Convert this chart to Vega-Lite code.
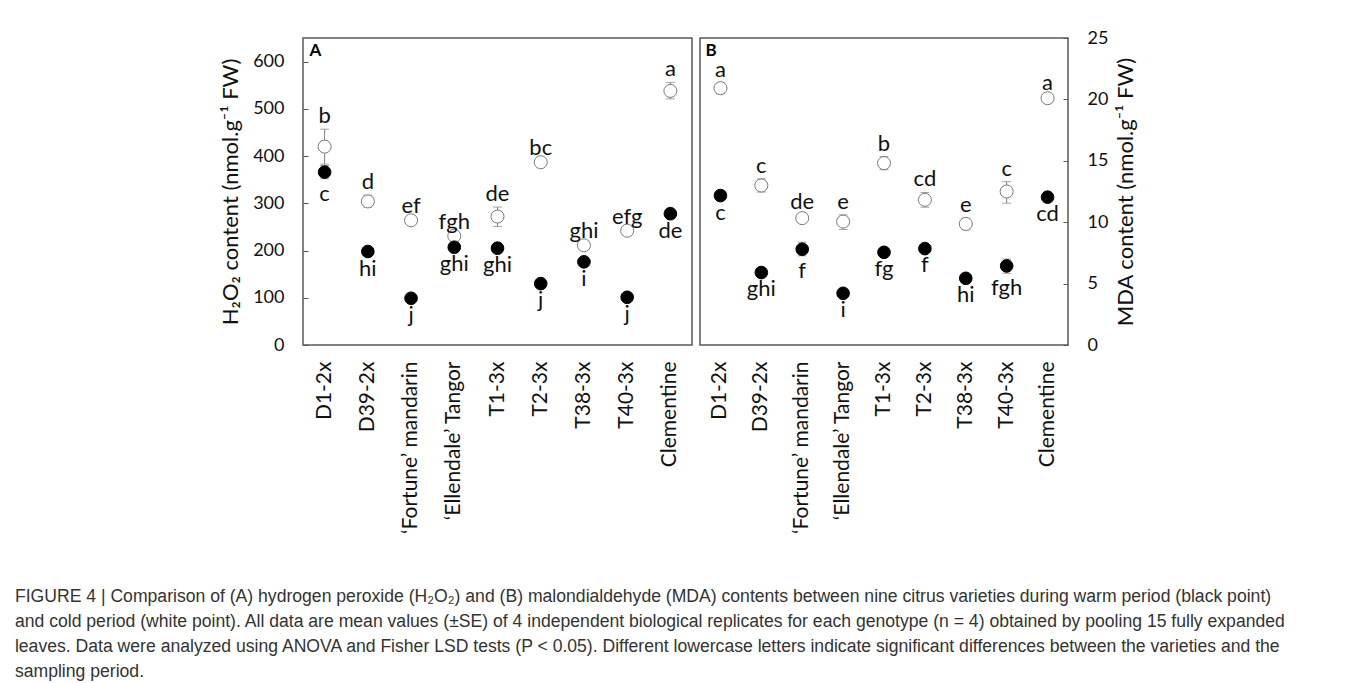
{
  "$schema": "https://vega.github.io/schema/vega-lite/v6.json",
  "background": "white",
  "padding": {"left": 14, "top": 28, "right": 2, "bottom": 2},
  "spacing": 6,
  "config": {
    "font": "Lato",
    "view": {"stroke": "#595959", "strokeWidth": 1.5},
    "axis": {"labelFont": "Lato", "titleFont": "Lato", "labelColor": "#111", "titleColor": "#111", "grid": false, "domain": false, "labelFontSize": 18, "titleFontWeight": "normal"}
  },
  "title": {
    "text": [
      "FIGURE 4 | Comparison of (A) hydrogen peroxide (H₂O₂) and (B) malondialdehyde (MDA) contents between nine citrus varieties during warm period (black point)",
      "and cold period (white point). All data are mean values (±SE) of 4 independent biological replicates for each genotype (n = 4) obtained by pooling 15 fully expanded",
      "leaves. Data were analyzed using ANOVA and Fisher LSD tests (P < 0.05). Different lowercase letters indicate significant differences between the varieties and the",
      "sampling period."
    ],
    "orient": "bottom",
    "anchor": "start",
    "frame": "bounds",
    "dx": -204,
    "offset": 54,
    "font": "Liberation Sans",
    "fontSize": 17.6,
    "fontWeight": "normal",
    "lineHeight": 25,
    "color": "#333"
  },
  "datasets": {
    "h2o2": [
      {"variety": "D1-2x", "period": "cold", "mean": 420, "lo": 383, "hi": 457, "letter": "b"},
      {"variety": "D39-2x", "period": "cold", "mean": 304, "lo": 292, "hi": 317, "letter": "d"},
      {"variety": "‘Fortune’ mandarin", "period": "cold", "mean": 264, "lo": 262, "hi": 266, "letter": "ef"},
      {"variety": "‘Ellendale’ Tangor", "period": "cold", "mean": 231, "lo": 229, "hi": 233, "letter": "fgh"},
      {"variety": "T1-3x", "period": "cold", "mean": 272, "lo": 251, "hi": 292, "letter": "de"},
      {"variety": "T2-3x", "period": "cold", "mean": 387, "lo": 385, "hi": 389, "letter": "bc"},
      {"variety": "T38-3x", "period": "cold", "mean": 211, "lo": 209, "hi": 213, "letter": "ghi"},
      {"variety": "T40-3x", "period": "cold", "mean": 242, "lo": 240, "hi": 244, "letter": "efg"},
      {"variety": "Clementine", "period": "cold", "mean": 538, "lo": 521, "hi": 556, "letter": "a"},
      {"variety": "D1-2x", "period": "warm", "mean": 366, "lo": 352, "hi": 380, "letter": "c"},
      {"variety": "D39-2x", "period": "warm", "mean": 198, "lo": 192, "hi": 204, "letter": "hi"},
      {"variety": "‘Fortune’ mandarin", "period": "warm", "mean": 99, "lo": 96, "hi": 102, "letter": "j"},
      {"variety": "‘Ellendale’ Tangor", "period": "warm", "mean": 207, "lo": 204, "hi": 210, "letter": "ghi"},
      {"variety": "T1-3x", "period": "warm", "mean": 205, "lo": 202, "hi": 208, "letter": "ghi"},
      {"variety": "T2-3x", "period": "warm", "mean": 130, "lo": 127, "hi": 133, "letter": "j"},
      {"variety": "T38-3x", "period": "warm", "mean": 176, "lo": 172, "hi": 180, "letter": "i"},
      {"variety": "T40-3x", "period": "warm", "mean": 101, "lo": 98, "hi": 104, "letter": "j"},
      {"variety": "Clementine", "period": "warm", "mean": 278, "lo": 274, "hi": 282, "letter": "de"}
    ],
    "mda": [
      {"variety": "D1-2x", "period": "cold", "mean": 20.92, "lo": 20.46, "hi": 21.33, "letter": "a"},
      {"variety": "D39-2x", "period": "cold", "mean": 12.99, "lo": 12.45, "hi": 13.53, "letter": "c"},
      {"variety": "‘Fortune’ mandarin", "period": "cold", "mean": 10.33, "lo": 10.1, "hi": 10.55, "letter": "de"},
      {"variety": "‘Ellendale’ Tangor", "period": "cold", "mean": 10.05, "lo": 9.4, "hi": 10.6, "letter": "e"},
      {"variety": "T1-3x", "period": "cold", "mean": 14.81, "lo": 14.27, "hi": 15.35, "letter": "b"},
      {"variety": "T2-3x", "period": "cold", "mean": 11.82, "lo": 11.22, "hi": 12.42, "letter": "cd"},
      {"variety": "T38-3x", "period": "cold", "mean": 9.86, "lo": 9.38, "hi": 10.33, "letter": "e"},
      {"variety": "T40-3x", "period": "cold", "mean": 12.5, "lo": 11.55, "hi": 13.3, "letter": "c"},
      {"variety": "Clementine", "period": "cold", "mean": 20.1, "lo": 19.9, "hi": 20.3, "letter": "a"},
      {"variety": "D1-2x", "period": "warm", "mean": 12.17, "lo": 12.0, "hi": 12.35, "letter": "c"},
      {"variety": "D39-2x", "period": "warm", "mean": 5.9, "lo": 5.75, "hi": 6.05, "letter": "ghi"},
      {"variety": "‘Fortune’ mandarin", "period": "warm", "mean": 7.8, "lo": 7.26, "hi": 8.37, "letter": "f"},
      {"variety": "‘Ellendale’ Tangor", "period": "warm", "mean": 4.21, "lo": 4.1, "hi": 4.3, "letter": "i"},
      {"variety": "T1-3x", "period": "warm", "mean": 7.55, "lo": 7.4, "hi": 7.7, "letter": "fg"},
      {"variety": "T2-3x", "period": "warm", "mean": 7.85, "lo": 7.7, "hi": 8.0, "letter": "f"},
      {"variety": "T38-3x", "period": "warm", "mean": 5.43, "lo": 5.3, "hi": 5.55, "letter": "hi"},
      {"variety": "T40-3x", "period": "warm", "mean": 6.44, "lo": 5.84, "hi": 7.0, "letter": "fgh"},
      {"variety": "Clementine", "period": "warm", "mean": 12.04, "lo": 11.9, "hi": 12.2, "letter": "cd"}
    ]
  },
  "hconcat": [
    {
      "width": 389,
      "height": 307,
      "data": {"name": "h2o2"},
      "encoding": {
        "x": {
          "field": "variety", "type": "nominal",
          "sort": ["D1-2x", "D39-2x", "‘Fortune’ mandarin", "‘Ellendale’ Tangor", "T1-3x", "T2-3x", "T38-3x", "T40-3x", "Clementine"],
          "scale": {"type": "band", "paddingInner": 0, "paddingOuter": 0},
          "axis": {"title": null, "labelAngle": 270, "labelAlign": "right", "labelBaseline": "middle", "ticks": false, "labelPadding": 16, "labelFontSize": 21}
        }
      },
      "layer": [
        {
          "mark": {"type": "rule", "color": "#808080", "strokeWidth": 1},
          "encoding": {
            "y": {"field": "lo", "type": "quantitative", "title": "H₂O₂ content (nmol.g⁻¹ FW)", "scale": {"domain": [0, 650], "nice": false},
              "axis": {"titleFontSize": 22, "values": [0, 100, 200, 300, 400, 500, 600], "tickSize": -5, "tickColor": "#595959", "labelPadding": 24, "titlePadding": 10}},
            "y2": {"field": "hi"}
          }
        },
        {
          "mark": {"type": "tick", "color": "#808080", "size": 9, "thickness": 1},
          "encoding": {"y": {"field": "lo", "type": "quantitative", "title": "H₂O₂ content (nmol.g⁻¹ FW)"}}
        },
        {
          "mark": {"type": "tick", "color": "#808080", "size": 9, "thickness": 1},
          "encoding": {"y": {"field": "hi", "type": "quantitative", "title": "H₂O₂ content (nmol.g⁻¹ FW)"}}
        },
        {
          "transform": [{"filter": "datum.period === 'cold'"}],
          "mark": {"type": "point", "shape": "circle", "filled": true, "fill": "white", "stroke": "#7a7a7a", "strokeWidth": 1, "size": 170, "opacity": 1},
          "encoding": {"y": {"field": "mean", "type": "quantitative", "title": "H₂O₂ content (nmol.g⁻¹ FW)"}}
        },
        {
          "transform": [{"filter": "datum.period === 'warm'"}],
          "mark": {"type": "point", "shape": "circle", "filled": true, "fill": "black", "stroke": "black", "strokeWidth": 1, "size": 160, "opacity": 1},
          "encoding": {"y": {"field": "mean", "type": "quantitative", "title": "H₂O₂ content (nmol.g⁻¹ FW)"}}
        },
        {
          "transform": [{"filter": "datum.period === 'cold'"}],
          "mark": {"type": "text", "font": "Lato", "fontSize": 22, "baseline": "bottom", "dy": -1, "color": "#111"},
          "encoding": {"y": {"field": "hi", "type": "quantitative", "title": "H₂O₂ content (nmol.g⁻¹ FW)"}, "text": {"field": "letter"}}
        },
        {
          "transform": [{"filter": "datum.period === 'warm'"}],
          "mark": {"type": "text", "font": "Lato", "fontSize": 22, "baseline": "top", "dy": 5, "color": "#111"},
          "encoding": {"y": {"field": "lo", "type": "quantitative", "title": "H₂O₂ content (nmol.g⁻¹ FW)"}, "text": {"field": "letter"}}
        },
        {
          "data": {"values": [{"panel": "A", "variety": "D1-2x", "top": 650}]},
          "mark": {"type": "text", "font": "Lato", "fontSize": 17, "fontWeight": "bold", "align": "left", "baseline": "top", "dx": -15, "dy": 5, "color": "#000"},
          "encoding": {"y": {"field": "top", "type": "quantitative", "title": "H₂O₂ content (nmol.g⁻¹ FW)"}, "text": {"field": "panel"}}
        }
      ]
    },
    {
      "width": 368,
      "height": 307,
      "data": {"name": "mda"},
      "encoding": {
        "x": {
          "field": "variety", "type": "nominal",
          "sort": ["D1-2x", "D39-2x", "‘Fortune’ mandarin", "‘Ellendale’ Tangor", "T1-3x", "T2-3x", "T38-3x", "T40-3x", "Clementine"],
          "scale": {"type": "band", "paddingInner": 0, "paddingOuter": 0},
          "axis": {"title": null, "labelAngle": 270, "labelAlign": "right", "labelBaseline": "middle", "ticks": false, "labelPadding": 16, "labelFontSize": 21}
        }
      },
      "layer": [
        {
          "mark": {"type": "rule", "color": "#808080", "strokeWidth": 1},
          "encoding": {
            "y": {"field": "lo", "type": "quantitative", "title": "MDA content (nmol.g⁻¹ FW)", "scale": {"domain": [0, 25], "nice": false},
              "axis": {"orient": "right", "titleFontSize": 22, "titleAngle": 270, "values": [0, 5, 10, 15, 20, 25], "tickSize": -5, "tickColor": "#595959", "labelPadding": 24, "titlePadding": 30}},
            "y2": {"field": "hi"}
          }
        },
        {
          "mark": {"type": "tick", "color": "#808080", "size": 9, "thickness": 1},
          "encoding": {"y": {"field": "lo", "type": "quantitative", "title": "MDA content (nmol.g⁻¹ FW)"}}
        },
        {
          "mark": {"type": "tick", "color": "#808080", "size": 9, "thickness": 1},
          "encoding": {"y": {"field": "hi", "type": "quantitative", "title": "MDA content (nmol.g⁻¹ FW)"}}
        },
        {
          "transform": [{"filter": "datum.period === 'cold'"}],
          "mark": {"type": "point", "shape": "circle", "filled": true, "fill": "white", "stroke": "#7a7a7a", "strokeWidth": 1, "size": 170, "opacity": 1},
          "encoding": {"y": {"field": "mean", "type": "quantitative", "title": "MDA content (nmol.g⁻¹ FW)"}}
        },
        {
          "transform": [{"filter": "datum.period === 'warm'"}],
          "mark": {"type": "point", "shape": "circle", "filled": true, "fill": "black", "stroke": "black", "strokeWidth": 1, "size": 160, "opacity": 1},
          "encoding": {"y": {"field": "mean", "type": "quantitative", "title": "MDA content (nmol.g⁻¹ FW)"}}
        },
        {
          "transform": [{"filter": "datum.period === 'cold'"}],
          "mark": {"type": "text", "font": "Lato", "fontSize": 22, "baseline": "bottom", "dy": -1, "color": "#111"},
          "encoding": {"y": {"field": "hi", "type": "quantitative", "title": "MDA content (nmol.g⁻¹ FW)"}, "text": {"field": "letter"}}
        },
        {
          "transform": [{"filter": "datum.period === 'warm'"}],
          "mark": {"type": "text", "font": "Lato", "fontSize": 22, "baseline": "top", "dy": 5, "color": "#111"},
          "encoding": {"y": {"field": "lo", "type": "quantitative", "title": "MDA content (nmol.g⁻¹ FW)"}, "text": {"field": "letter"}}
        },
        {
          "data": {"values": [{"panel": "B", "variety": "D1-2x", "top": 25}]},
          "mark": {"type": "text", "font": "Lato", "fontSize": 17, "fontWeight": "bold", "align": "left", "baseline": "top", "dx": -15, "dy": 5, "color": "#000"},
          "encoding": {"y": {"field": "top", "type": "quantitative", "title": "MDA content (nmol.g⁻¹ FW)"}, "text": {"field": "panel"}}
        }
      ]
    }
  ]
}
